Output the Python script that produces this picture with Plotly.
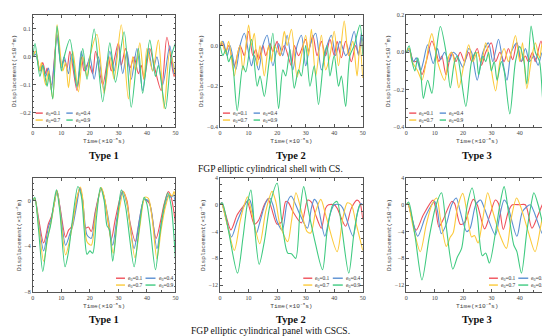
import plotly.graph_objects as go

# ---------------- data (time in 1e-3 s, displacement) ----------------
SERIES_ORDER = ["red", "blue", "yellow", "green"]
COLORS = {"red": "#f0515b", "blue": "#5a8fd2", "yellow": "#fcca3a", "green": "#3fca80"}
LABELS = {"red": "e<sub>0</sub>=0.1", "blue": "e<sub>0</sub>=0.4",
          "yellow": "e<sub>0</sub>=0.7", "green": "e<sub>0</sub>=0.9"}

x_ticks = [0, 10, 20, 30, 40, 50]

# Panel 1: shell CS, Type 1
p1_red = [(0,0),(1,0.02),(2.5,-0.05),(3.5,-0.02),(4.5,-0.06),(5,-0.04),(6.5,-0.1),(8.5,0.08),(10,-0.03),(11,-0.01),(12,-0.04),(13,0.02),(15.5,-0.12),(17,0.0),(18,-0.05),(19.5,-0.02),(21,-0.06),(22,0.02),(24.5,-0.1),(26.5,0.0),(27.5,-0.05),(30,0.05),(31,-0.03),(32.5,0.03),(34,-0.04),(35.5,0.0),(37,-0.06),(38,-0.03),(39,-0.08),(41,0.03),(42.5,-0.03),(45,-0.12),(47,0.07),(49.5,-0.07),(50,-0.05)]
p1_blue = [(0,0),(1,0.01),(2.5,-0.05),(3.5,-0.03),(4.5,-0.07),(5.5,-0.04),(6.5,-0.12),(8.5,0.07),(10,-0.04),(11,0.0),(12.5,-0.06),(13.5,0.01),(15.5,-0.11),(17,0.02),(18.5,-0.05),(20,0.0),(21.5,-0.08),(23,0.0),(25,-0.12),(27,0.02),(28.5,-0.05),(30,0.04),(31.5,-0.06),(33,0.02),(34.5,-0.08),(36.5,0.03),(38.5,-0.12),(40.5,0.03),(42,-0.05),(43.5,0.0),(45.5,-0.1),(48,0.04),(49.5,-0.06),(50,-0.02)]
p1_yellow = [(0,0),(1,0.02),(2.5,-0.05),(3,-0.02),(4.5,-0.1),(5.5,-0.05),(7,-0.15),(8.5,0.115),(10.5,-0.05),(11.5,-0.02),(12.5,-0.11),(14,0.02),(16,-0.125),(17.5,0.0),(19,-0.07),(20,0.0),(22.5,0.08),(25,-0.13),(27,0.0),(28.5,-0.08),(31,0.115),(33.5,-0.15),(35,0.0),(36,-0.05),(37.5,0.05),(39,-0.08),(40,0.03),(42,-0.05),(44,0.06),(46,-0.185),(48,0.02),(50,-0.07)]
p1_green = [(0,0),(0.8,0.048),(2.5,-0.07),(3.5,-0.03),(5,-0.105),(5.8,-0.06),(7,-0.15),(8.5,0.11),(10,-0.05),(11,0.0),(13,0.062),(15.5,-0.105),(17.5,0.03),(19,-0.08),(21.5,0.1),(24.5,-0.16),(27,0.05),(29,-0.09),(32,0.09),(34.5,-0.18),(37,0.03),(38.5,-0.13),(41,0.06),(43,-0.07),(44,-0.03),(46.5,-0.185),(48.5,0.0),(50,0.05)]

# Panel 2: shell CS, Type 2
p2_red = [(0,0),(1,0.01),(2,-0.03),(3,0.0),(5,-0.1),(7,0.0),(8.5,-0.05),(10,0.07),(11.5,-0.05),(12.5,-0.02),(13.5,-0.07),(15,0.0),(16,-0.05),(17.5,0.01),(18.5,-0.03),(20,0.02),(21,-0.05),(22.5,0.0),(25,-0.1),(26,0.0),(27.5,-0.05),(30,0.03),(31,-0.03),(32.5,0.05),(34,-0.05),(35.5,0.02),(37,-0.05),(38.5,0.03),(40,-0.05),(41,0.02),(42.5,-0.06),(44,0.02),(46,-0.08),(47.5,0.0),(48.5,-0.04),(49.5,0.04),(50,-0.04)]
p2_blue = [(0,0),(1,0.02),(2.5,-0.05),(3.5,0.0),(5.5,-0.12),(7,0.0),(8.5,0.06),(11,-0.1),(12,-0.05),(13.5,-0.12),(15,0.0),(16.5,0.05),(18.5,-0.1),(20.5,0.01),(22,-0.05),(23.5,0.05),(25.5,-0.12),(27,0.0),(28.5,0.05),(30,-0.1),(31.5,0.0),(33.5,0.06),(35.5,-0.12),(37.5,0.0),(39,0.05),(40.5,-0.05),(42,0.02),(44,-0.05),(45,-0.03),(47,0.07),(48.5,-0.05),(49.5,0.06),(50,0.02)]
p2_yellow = [(0,0),(0.5,0.02),(2,-0.04),(3,0.02),(5,-0.15),(6,-0.05),(7,0.0),(8,-0.12),(10,0.1),(11,0.0),(12,0.06),(13,-0.1),(14,0.0),(15.5,-0.15),(17,0.0),(18,-0.08),(19,0.0),(21,-0.05),(22.5,0.07),(23.5,0.0),(25,0.08),(27,-0.155),(28.5,-0.05),(30,0.05),(31,-0.05),(32,0.08),(33.5,-0.15),(35.5,0.05),(37,-0.12),(38.5,-0.05),(40,0.07),(41.5,-0.1),(43.5,0.12),(45,-0.05),(46.5,0.02),(48,-0.15),(49,0.0),(50,-0.16)]
p2_green = [(0,0),(1,-0.05),(2,-0.02),(3,-0.08),(4,-0.05),(6,-0.32),(8,-0.1),(9,-0.13),(11,0.03),(13,-0.2),(14,-0.15),(15.5,-0.25),(17,-0.1),(18.5,0.06),(20.5,-0.31),(22,-0.12),(23,-0.15),(24.5,-0.02),(26,-0.21),(27.5,-0.12),(28.5,-0.15),(30,0.0),(31.5,-0.2),(33,-0.1),(34.5,-0.29),(36.5,-0.05),(37.5,0.0),(38.5,-0.15),(40,-0.05),(41.5,-0.2),(42.5,-0.15),(44,-0.3),(45.5,-0.05),(47,0.0),(49,0.1),(50,-0.05)]

# Panel 3: shell CS, Type 3
p3_red = [(0,0),(1,0.02),(2.5,-0.05),(4,-0.05),(5.5,-0.12),(7,-0.05),(9,0.06),(10.5,0.0),(11.5,-0.05),(12.5,-0.02),(14,-0.12),(16,0.0),(17.5,-0.05),(19,0.0),(20.5,-0.05),(22,0.0),(23,-0.05),(25,0.02),(26.5,-0.07),(28,0.0),(30,0.05),(31.5,-0.05),(33,0.0),(34.5,-0.05),(36,0.02),(37.5,-0.04),(39,0.05),(40.5,-0.05),(42,-0.02),(43,-0.05),(44.5,0.0),(45.5,-0.05),(47.5,0.06),(49,-0.05),(50,0.0)]
p3_blue = [(0,0),(1,0.01),(2.5,-0.05),(3.5,-0.03),(5,-0.1),(6,-0.05),(7.5,0.04),(9.5,-0.06),(11,0.02),(12,-0.04),(13.5,0.0),(15,-0.05),(16.5,0.0),(18,-0.02),(20,-0.08),(22,0.02),(23,0.0),(25,-0.15),(27,0.0),(29,0.05),(30.5,-0.05),(32.5,0.07),(34,-0.05),(35.5,-0.15),(37,0.0),(39,0.05),(40.5,-0.05),(42,0.02),(43.5,-0.05),(45,-0.02),(46.5,-0.07),(48,0.0),(50,-0.05)]
p3_yellow = [(0,0),(1,0.02),(2,-0.05),(4,-0.1),(5.5,-0.15),(7,-0.05),(8,0.05),(9,0.1),(11,-0.05),(13.5,-0.15),(15,-0.02),(16,0.0),(17.5,-0.1),(18.5,-0.19),(20.5,-0.05),(22,0.04),(23.5,-0.05),(25,0.0),(26.5,-0.05),(28,0.05),(29.5,-0.05),(31.5,-0.207),(33,-0.05),(34.5,0.02),(36,-0.05),(37,0.0),(38.5,0.09),(40,-0.05),(41,0.05),(42.5,-0.195),(44,-0.05),(45.5,0.05),(47,-0.03),(48,0.05),(50,-0.05)]
p3_green = [(0,0),(1,0.035),(2,-0.05),(3,-0.1),(4,-0.03),(5,-0.1),(6,-0.247),(7.5,-0.15),(9,-0.22),(10.5,0.0),(12,0.138),(14,0.0),(15.5,-0.19),(17,-0.05),(18,-0.02),(19,-0.1),(21,-0.29),(23,-0.05),(24.5,0.0),(25.5,-0.12),(27,-0.02),(28,-0.05),(29,0.0),(30,-0.1),(31,-0.05),(32,-0.15),(33.5,-0.05),(34.5,-0.1),(36.5,-0.33),(38.5,-0.05),(40,0.03),(41.5,-0.05),(42.5,-0.17),(44,0.14),(45.5,0.0),(47,-0.05),(48.5,-0.31),(50,-0.15)]

# Panel 4: panel CSCS, Type 1
p4_red = [(0,0),(0.7,0.2),(2,-1.5),(3.8,-3.7),(5.5,-2.0),(6.5,-1.4),(7.3,-0.5),(8.5,0.85),(9.5,-0.5),(11.5,-3.2),(12.5,-2.6),(13.5,-2.3),(15,-0.5),(16.5,1.15),(17.5,0.0),(18.5,-2.4),(19.5,-2.3),(20.5,-2.7),(22,-0.8),(24,1.1),(25,0.3),(26,-1.2),(27.5,-3.4),(29,-1.5),(31.5,0.85),(33,0.0),(34,-1.8),(36,-3.6),(37.5,-1.5),(39,0.1),(40,0.0),(41,-0.3),(43.2,-3.3),(45,-1.5),(46,-0.3),(47.5,0.8),(48.5,0.3),(50,-2.0)]
p4_blue = [(0,0),(0.7,0.2),(2,-1.8),(3.8,-4.4),(5.5,-2.3),(6.5,-1.6),(7.5,-0.3),(8.5,0.85),(9.5,-0.6),(11.5,-3.9),(13,-2.9),(14,-2.2),(15.5,-0.2),(16.5,1.1),(17.5,0.0),(19,-3.0),(20.5,-3.3),(22,-1.0),(24,1.05),(25,0.3),(26.5,-1.6),(28,-3.9),(29.5,-1.5),(31.5,0.8),(33,-0.3),(35.5,-4.2),(37,-2.2),(39,0.1),(40.5,0.0),(41.5,-0.8),(43.5,-4.2),(45,-2.0),(46.5,-0.3),(47.5,0.5),(48.5,0.3),(49.3,0.5),(50,-0.4)]
p4_yellow = [(0,0),(0.7,0.2),(2,-2.0),(3.8,-5.3),(5.5,-2.8),(6.5,-1.8),(7.5,-0.3),(8.5,0.9),(9.5,-0.8),(11.5,-4.75),(12.8,-3.6),(14,-2.0),(15.5,0.3),(16.7,1.2),(17.5,0.2),(19,-3.6),(20.5,-3.9),(22,-1.3),(24,1.15),(25,0.4),(26.5,-1.9),(28.2,-4.6),(29.5,-2.0),(31.8,0.8),(33,-0.2),(35.8,-5.0),(37.5,-2.3),(39.3,0.3),(40.5,0.2),(41.8,-1.5),(43.5,-5.1),(45,-2.5),(46.5,-0.5),(48,0.6),(48.8,0.4),(49.5,0.8),(50,0.3)]
p4_green = [(0,0),(0.7,0.3),(2,-2.5),(3.5,-6.2),(5,-3.5),(6.2,-2.2),(7.5,0.0),(8.3,0.95),(9.5,-1.0),(11.3,-5.8),(12.5,-4.5),(14,-1.5),(15.8,1.25),(17,0.4),(18,-2.5),(19,-4.7),(20,-4.4),(21,-4.6),(22.3,-1.5),(23.7,1.15),(25,0.0),(26,-2.2),(26.8,-2.5),(28,-5.3),(29.5,-2.0),(31,0.95),(32.5,-0.5),(35.5,-5.8),(37,-3.0),(39,0.3),(40,-0.3),(41,-2.0),(43,-6.05),(44.5,-3.0),(46,-0.5),(47.3,0.7),(48.5,-0.5),(50,-5.2)]

# Panel 5: panel CSCS, Type 2
p5_red = [(0,0),(0.5,0.3),(2,-1.5),(3.8,-3.75),(6,-1.5),(8,-0.3),(9.5,0.5),(10.5,-0.8),(12,-2.9),(13.5,-2.3),(15.5,0.0),(16.8,0.9),(18,-0.5),(20,-2.9),(21.5,-2.6),(23,0.5),(24,0.3),(25.5,-1.0),(28.5,-2.7),(30.7,0.7),(32,0.4),(33.5,-1.5),(35.5,-3.5),(37,-0.5),(38,0.0),(40,0.0),(41,-0.5),(44,-3.2),(46,-0.5),(48,0.7),(49,0.3),(50,-2.2)]
p5_blue = [(0,0),(0.5,0.3),(2,-2.0),(4,-4.8),(6,-2.5),(8,-0.5),(10.2,0.8),(11,0.0),(12.7,-4.3),(14,-2.5),(16,0.3),(17.4,1.0),(18.5,0.0),(20,-2.5),(21.8,-3.8),(23.5,0.3),(24.9,1.3),(26.5,0.0),(28,-1.5),(30.6,-3.5),(32,-0.5),(33,0.8),(34,0.3),(36.7,-4.7),(38.5,-1.5),(40,0.0),(42,0.0),(43,-0.5),(46.6,-4.7),(48,-1.5),(49.3,0.2),(50,0.0)]
p5_yellow = [(0,0),(0.5,0.2),(2.5,-3.0),(5,-6.8),(7,-2.5),(8.5,0.0),(9.6,1.2),(11,-1.0),(13.9,-5.8),(16,-1.0),(18.2,2.0),(19.5,0.5),(21,-3.0),(23.7,-5.5),(25,-2.5),(26.6,1.8),(28.5,-1.0),(30.5,-4.0),(31.8,-4.2),(33.5,-1.0),(35.3,0.8),(37,-1.5),(41,-7.0),(43,-2.0),(44.6,0.3),(46,0.0),(47.5,-2.5),(50,-6.8)]
p5_green = [(0,0),(0.8,0.3),(3,-4.0),(6.1,-10.2),(8,-5.0),(9.5,0.0),(10.8,2.2),(12,-3.0),(13.7,-8.9),(15.5,-5.5),(17.5,0.0),(20,3.2),(21.5,-2.0),(23.7,-7.2),(25,-7.3),(26.5,-8.0),(28,-1.0),(29.3,2.7),(31,-1.0),(33,-5.0),(35.9,-9.7),(37.5,-4.0),(39.5,0.0),(41,0.5),(42.5,-3.0),(45.1,-10.2),(47,-4.0),(49,0.0),(50,0.0)]

# Panel 6: panel CSCS, Type 3
p6_red = [(0,0),(0.5,0.2),(3.4,-3.8),(6,-1.5),(9.4,0.7),(10.3,-0.5),(11.5,-3.3),(13,-2.2),(16,0.5),(17,0.2),(19,-2.9),(20.5,-2.7),(23.6,0.8),(25,0.0),(27.6,-3.6),(29.5,-1.5),(31.4,0.7),(32.5,0.2),(34.2,-3.7),(36,-1.0),(37.4,0.0),(40,0.0),(42,0.0),(44.3,-3.5),(46.5,-1.5),(48.9,0.7),(50,-0.5)]
p6_blue = [(0,0),(0.5,0.2),(4,-4.7),(6.5,-2.0),(8.5,-0.3),(10,0.5),(11,-1.0),(12.3,-4.3),(14,-3.0),(16,0.0),(17.6,1.0),(19,-1.0),(21.3,-4.0),(22.5,-3.5),(24.5,0.0),(26.2,0.7),(27.5,-0.5),(31.4,-4.5),(33,-1.5),(34.5,0.7),(35.5,0.2),(39,-4.7),(41,-1.0),(43.7,0.0),(45,-1.0),(48.3,-4.5),(50,-1.5)]
p6_yellow = [(0,0),(0.5,0.2),(2.5,-3.5),(4.9,-7.0),(7,-3.0),(9,0.0),(10.7,1.0),(12,-2.0),(14.1,-6.2),(15.5,-4.8),(16.5,-4.2),(18,-0.5),(19.9,1.7),(21.5,-1.5),(23,-4.8),(24,-4.6),(25.3,-5.7),(27,-2.0),(28.7,1.8),(30.5,-1.0),(33,-4.5),(35.3,-6.5),(37,-2.0),(38.9,1.0),(40.5,-0.5),(43,-4.0),(45.4,-7.0),(47.5,-3.0),(49,0.0),(50,-1.0)]
p6_green = [(0,0),(0.8,0.4),(3,-4.5),(5.5,-11.2),(8,-5.0),(10.5,0.0),(12.4,1.8),(14,-3.0),(16.4,-9.6),(18,-7.8),(19.5,-6.5),(21.5,0.0),(23.2,2.5),(25,-1.5),(26.8,-7.6),(28,-7.2),(29.3,-8.7),(31.5,-4.0),(33,0.0),(34.5,2.7),(36,-1.0),(37.9,-6.0),(39,-7.0),(40.6,-10.2),(42.5,-4.0),(44,0.0),(45,1.8),(46.5,0.0),(48.5,-3.5),(50,-5.5)]

y_ticks_p1 = [0.1, 0.0, -0.1, -0.2]
y_ticks_p2 = [0.0, -0.2, -0.4]
y_ticks_p3 = [0.2, 0.0, -0.2, -0.4]
y_ticks_p4 = [0, -4, -8]
y_ticks_p56 = [4, 0, -4, -8, -12]

type_labels = ["Type 1", "Type 2", "Type 3"]
captions = ["FGP elliptic cylindrical shell with CS.", "FGP elliptic cylindrical panel with CSCS."]

# ---------------- layout config ----------------
W, H = 550, 336
XD = [(23, 167), (212, 356), (400, 543)]
YD = [(4, 118), (170, 286)]

panels = [
    dict(series=dict(red=p1_red, blue=p1_blue, yellow=p1_yellow, green=p1_green), yr=[-0.25, 0.15], yt=y_ticks_p1, fmt=".1f", row=0, col=0),
    dict(series=dict(red=p2_red, blue=p2_blue, yellow=p2_yellow, green=p2_green), yr=[-0.4, 0.15], yt=y_ticks_p2, fmt=".1f", row=0, col=1),
    dict(series=dict(red=p3_red, blue=p3_blue, yellow=p3_yellow, green=p3_green), yr=[-0.4, 0.2], yt=y_ticks_p3, fmt=".1f", row=0, col=2),
    dict(series=dict(red=p4_red, blue=p4_blue, yellow=p4_yellow, green=p4_green), yr=[-8, 2], yt=y_ticks_p4, fmt="d", row=1, col=0),
    dict(series=dict(red=p5_red, blue=p5_blue, yellow=p5_yellow, green=p5_green), yr=[-13, 4], yt=y_ticks_p56, fmt="d", row=1, col=1),
    dict(series=dict(red=p6_red, blue=p6_blue, yellow=p6_yellow, green=p6_green), yr=[-13, 4], yt=y_ticks_p56, fmt="d", row=1, col=2),
]

fig = go.Figure()
shapes, annotations = [], []
AX_FONT = dict(family="Liberation Serif", size=6, color="#444")
TITLE_FONT = dict(family="Liberation Mono", size=6.2, color="#444")

for i, p in enumerate(panels):
    n = "" if i == 0 else str(i + 1)
    xa, ya = "x" + n, "y" + n
    for key in SERIES_ORDER:
        pts = p["series"][key]
        fig.add_trace(go.Scatter(
            x=[a for a, _ in pts], y=[b for _, b in pts], mode="lines",
            line=dict(color=COLORS[key], width=1.1, shape="spline", smoothing=0.8),
            xaxis=xa, yaxis=ya, showlegend=False, name=LABELS[key]))
    x0, x1 = XD[p["col"]]
    y0, y1 = YD[p["row"]]
    common = dict(showgrid=False, zeroline=False, showline=True, linecolor="#555", linewidth=0.8,
                  mirror="allticks", ticks="inside", ticklen=3, tickwidth=0.7, tickcolor="#555",
                  tickfont=AX_FONT, minor=dict(ticks="inside", ticklen=1.6, tickwidth=0.6, tickcolor="#555"))
    fig.layout["xaxis" + n] = dict(common, domain=[x0 / W, x1 / W], range=[0, 50], tickvals=x_ticks,
                                   anchor=ya, title=dict(text="Time(×10<sup>-3</sup>s)", font=TITLE_FONT, standoff=1))
    fig.layout["yaxis" + n] = dict(common, domain=[1 - y1 / H, 1 - y0 / H], range=p["yr"], tickvals=p["yt"],
                                   tickformat=p["fmt"], anchor=xa,
                                   title=dict(text="Displacement(×10<sup>-3</sup>m)", font=TITLE_FONT, standoff=2))
    # legend keys (2 x 2)
    if p["row"] == 0:
        cols_x = [(0.02, 0.07, 0.078), (0.235, 0.28, 0.288)]
        rows_y = [0.123, 0.061]
    else:
        cols_x = [(0.583, 0.646, 0.653), (0.79, 0.86, 0.868)]
        rows_y = [0.12, 0.06]
    grid = [("red", 0, 0), ("blue", 0, 1), ("yellow", 1, 0), ("green", 1, 1)]
    for key, r, c in grid:
        lx0, lx1, tx = cols_x[c]
        yy = rows_y[r]
        shapes.append(dict(type="line", xref=xa + " domain", yref=ya + " domain", x0=lx0, x1=lx1, y0=yy, y1=yy,
                           line=dict(color=COLORS[key], width=1.4)))
        annotations.append(dict(text=LABELS[key], xref=xa + " domain", yref=ya + " domain", x=tx, y=yy,
                                xanchor="left", yanchor="middle", showarrow=False,
                                font=dict(family="Liberation Serif", size=5.5, color="#333")))

# type labels & captions
for r, (ty, cy) in enumerate([(147, 161), (314, 326)]):
    for c in range(3):
        cx = (XD[c][0] + XD[c][1]) / 2
        annotations.append(dict(text="<b>%s</b>" % type_labels[c], xref="paper", yref="paper",
                                x=cx / W, y=1 - ty / H, xanchor="center", yanchor="middle", showarrow=False,
                                font=dict(family="Liberation Serif", size=10.5, color="#111")))
    annotations.append(dict(text=captions[r], xref="paper", yref="paper", x=263 / W, y=1 - cy / H,
                            xanchor="center", yanchor="middle", showarrow=False,
                            font=dict(family="Liberation Serif", size=9.5, color="#111")))

fig.update_layout(width=W, height=H, margin=dict(l=0, r=0, t=0, b=0), paper_bgcolor="white",
                  plot_bgcolor="white", shapes=shapes, annotations=annotations, showlegend=False)
fig.write_html("out.html")
